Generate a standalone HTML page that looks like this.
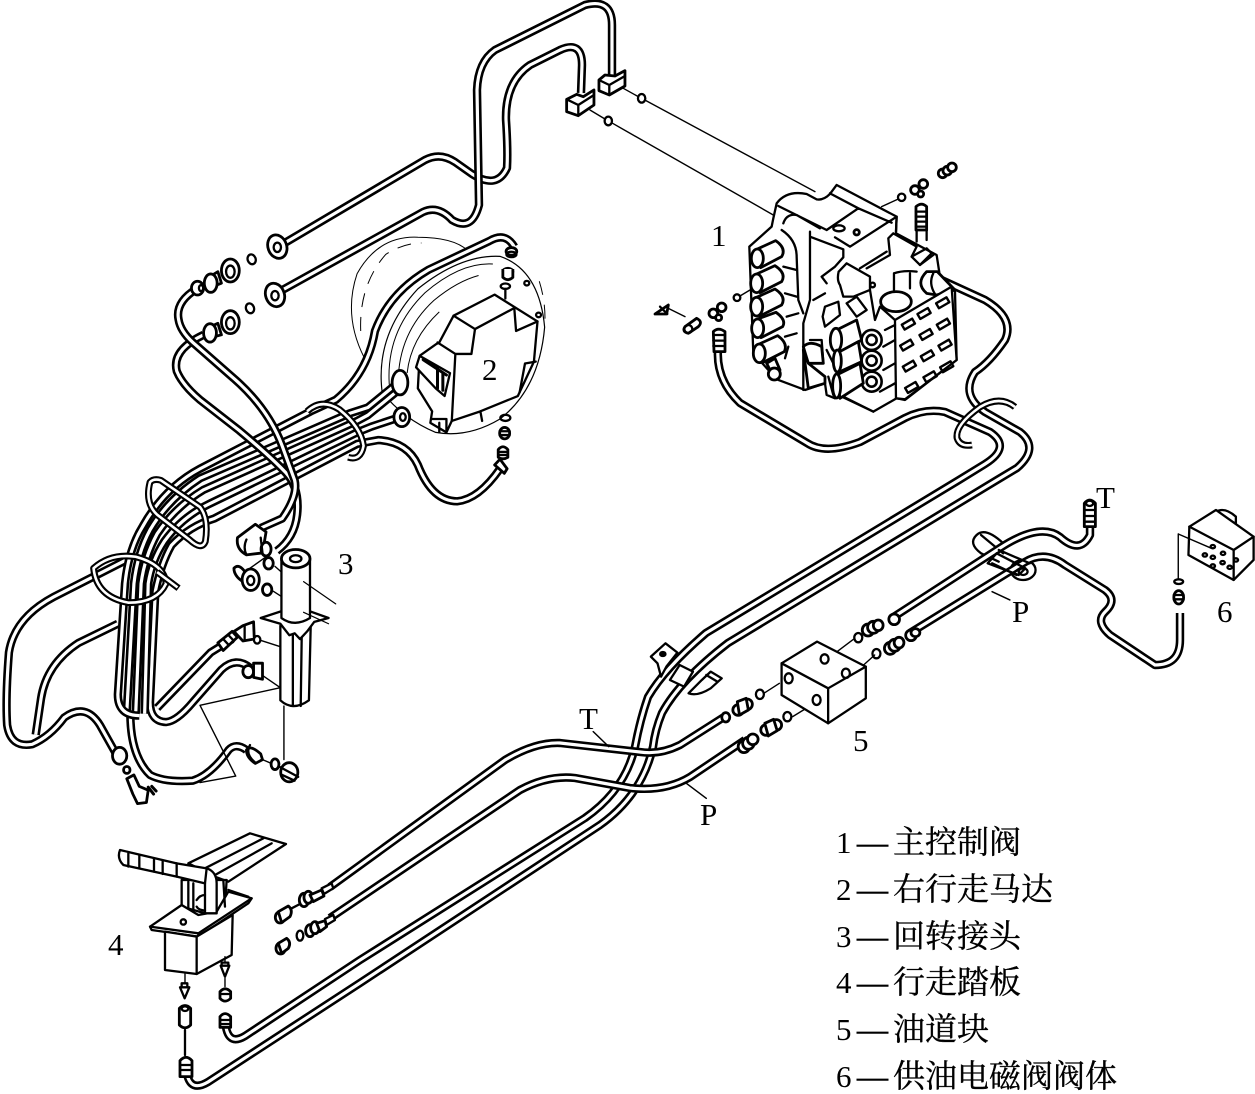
<!DOCTYPE html>
<html><head><meta charset="utf-8"><style>
html,body{margin:0;padding:0;background:#fff}
svg{display:block}
svg *{vector-effect:non-scaling-stroke}
.o{stroke:#000;stroke-width:8.4;fill:none;stroke-linejoin:round}
.i{stroke:#fff;stroke-width:3.2;fill:none;stroke-linejoin:round}
.so{stroke:#000;stroke-width:6.8;fill:none;stroke-linejoin:round}
.si{stroke:#fff;stroke-width:2.6;fill:none;stroke-linejoin:round}
.l{stroke:#000;stroke-width:2.3;fill:none;stroke-linejoin:round;stroke-linecap:round}
.w{stroke:#000;stroke-width:2.3;fill:#fff;stroke-linejoin:round}
.b{stroke:#000;stroke-width:2.8;fill:#fff;stroke-linejoin:round}
.t{stroke:#000;stroke-width:1;fill:none}
.d{stroke:#000;stroke-width:1;fill:none;stroke-dasharray:14 10}
text{font-family:"Liberation Serif","Noto Serif CJK SC",serif;fill:#000}
.n{font-size:31px}
.c{font-size:31px;font-family:"Liberation Serif","Noto Serif CJK SC",serif}
.c tspan.h{font-size:32px;stroke:#000;stroke-width:.35}
.c tspan.m{stroke:#000;stroke-width:.6}
</style></head><body>
<svg width="1255" height="1094" viewBox="0 0 1255 1094" xmlns="http://www.w3.org/2000/svg">
<defs>
<path id="A" d="M283,244 L425,160 Q440,152 455,162 L472,174 Q497,190 507,168 Q508,150 506,120 Q505,82 530,65 L560,50 Q582,40 582,65 L581,93"/>
<path id="B" d="M277,293 L423,212 Q438,205 452,220 Q472,232 479,205 L477,90 Q478,62 495,50 L585,5 Q612,-2 612,25 L612,75"/>
<path id="C" d="M718,350 Q716,380 740,403 L807,443 Q825,455 860,442 L905,418 Q925,408 945,412 L990,432 Q1012,447 985,464 L959,480 L706,633 Q665,668 648,697 Q640,720 635,747 Q625,790 585,818 L360,960 L245,1036 Q225,1048 225,1015"/>
<path id="D" d="M937,278 L985,300 Q1015,318 1005,340 Q990,362 975,372 Q960,395 985,412 L1020,432 Q1040,448 1017,468 L997,480 L728,643 Q680,680 662,713 Q655,730 653,747 Q642,795 600,825 L360,983 L208,1082 Q186,1095 186,1062"/>
<path id="T" d="M724,717 L680,745 Q660,755 640,752 L560,743 Q535,742 505,760 L330,887"/>
<path id="P" d="M745,740 L690,777 Q665,792 630,788 L575,778 Q548,775 520,790 L330,918"/>
<path id="RT" d="M892,618 L1000,548 Q1040,522 1060,537 Q1080,555 1090,535 L1090,503"/>
<path id="RP" d="M910,633 L1025,562 Q1045,550 1065,565 L1105,590 Q1118,600 1105,612 Q1095,622 1110,635 L1155,665 Q1180,665 1180,640 L1180,613"/>
<path id="S0" d="M1015,407 Q1000,395 980,407 Q955,425 957,438 Q960,447 972,445"/>

<path id="b1" d="M1440,70 Q1415,30 1370,55 L1200,130 Q1090,190 1050,290 Q1030,400 940,470 L870,500 L560,650 Q460,700 400,800 Q360,860 350,950 L330,1240 Q330,1295 390,1295"/>
<path id="b2" d="M1115,425 L1030,490 L980,505 L560,675 Q470,730 420,810 Q385,870 375,950 L355,1285"/>
<path id="b3" d="M1115,445 L1030,510 L1000,525 L570,705 Q490,750 440,820 Q405,880 395,950 L380,1290"/>
<path id="b4" d="M1120,515 L1040,540 L1000,555 L590,740 Q510,775 460,840 Q425,890 415,950 L405,1290"/>
<path id="b5" d="M1400,650 Q1340,730 1280,735 Q1210,735 1170,640 Q1140,580 1060,575 L1000,585 L600,780 Q530,800 480,850 Q450,900 435,970 L420,1260 Q420,1310 465,1312 Q495,1310 540,1260 L620,1175 Q660,1140 700,1170"/>
<path id="b6" d="M650,1095 L590,1130 L440,1275"/>
<path id="lo" d="M365,1290 Q365,1400 420,1450 Q460,1470 540,1465 Q590,1450 640,1385 Q660,1365 690,1385"/>
<path id="L1" d="M350,890 L150,985 Q40,1040 25,1130 Q15,1250 20,1320 Q30,1380 90,1370 Q140,1350 180,1300 Q240,1260 280,1320 L325,1395"/>
<path id="L2" d="M330,1055 L220,1105 Q130,1160 115,1250 L100,1345"/>
<path id="u1" d="M550,180 Q490,215 500,260 Q505,290 540,320 L650,410 Q750,490 790,590 L825,680 Q835,720 790,780 L730,805"/>
<path id="u2" d="M570,300 Q480,340 495,395 Q510,430 560,470 L670,550 Q760,620 800,660 Q840,700 832,770 Q825,830 775,865"/>
<path id="s1" d="M860,500 Q900,465 950,495 Q1010,540 1018,590 Q1010,630 975,620"/>
<path id="s2" d="M420,685 Q430,675 450,680 L560,750 Q585,780 575,840 Q565,865 530,835 L440,770 Q405,740 420,685 Z"/>
<path id="s3" d="M262,910 Q310,870 380,880 Q460,900 465,950 Q440,1000 360,1000 Q270,985 262,910 Z"/>
</defs>

<!-- motor (behind pipes) -->
<g transform="translate(0,220) scale(.35714,.3827)">
<path class="t" d="M1020,360 Q960,250 1000,140 M1000,140 Q1060,40 1170,45 Q1270,45 1310,80"/>
<path class="d" d="M1010,290 Q1005,170 1080,90 Q1130,60 1180,60"/>
<path class="w" style="stroke-width:1.2" d="M1070,450 Q1050,300 1170,180 Q1290,90 1400,95 Q1510,130 1525,280 Q1510,440 1400,520 Q1310,570 1220,555 Q1130,520 1070,450 Z"/>
<path class="t" d="M1090,430 Q1080,290 1190,190 Q1290,110 1380,115 M1115,440 Q1110,300 1215,210 Q1280,160 1340,145 M1140,400 Q1150,310 1230,240"/>
<path class="d" d="M1510,160 Q1530,220 1525,280"/>
<path class="w" d="M1175,355 L1220,325 L1230,320 L1270,250 L1385,195 L1505,265 L1495,370 L1450,460 L1345,500 L1265,525 L1250,555 L1205,530 L1210,500 L1170,440 Z"/>
<path class="l" d="M1270,250 L1330,285 L1320,350 L1275,350 L1265,525 M1330,285 L1440,230 L1445,290 L1505,265 M1225,320 L1275,350 M1345,500 L1350,525 M1500,370 L1470,375 L1455,450 M1210,520 L1250,520 L1250,555 M1230,530 L1230,555"/>
<path class="w" d="M1175,355 L1260,400 L1245,460 L1220,440 L1165,385 Z"/>
<path class="l" style="stroke-width:3" d="M1225,385 L1225,440 M1240,400 L1240,445 M1185,365 L1250,405"/>
<ellipse class="w" cx="1475" cy="165" rx="7" ry="6"/><ellipse class="w" cx="1508" cy="248" rx="7" ry="6"/>
<ellipse class="l" cx="1415" cy="173" rx="13" ry="7"/><path class="l" d="M1415,180 L1415,205"/>
<ellipse class="b" cx="1422" cy="135" rx="14" ry="9"/><path class="b" d="M1408,128 L1408,150 Q1422,162 1436,150 L1436,128"/>
</g>

<!-- long pipes -->
<use href="#C" class="o"/><use href="#C" class="i"/>
<use href="#D" class="o"/><use href="#D" class="i"/>
<use href="#T" class="o"/><use href="#T" class="i"/>
<use href="#P" class="o"/><use href="#P" class="i"/>
<use href="#A" class="o"/><use href="#A" class="i"/>
<use href="#B" class="o"/><use href="#B" class="i"/>
<use href="#S0" class="so"/><use href="#S0" class="si"/>

<!-- top blocks & leaders -->
<g transform="translate(220,0) scale(.3333)">
<path class="l" style="stroke-width:1.4" d="M1210,265 L1255,290 M1278,302 L1785,575 M1110,330 L1155,357 M1178,370 L1660,645"/>
<ellipse class="w" cx="1265" cy="295" rx="11" ry="13"/><ellipse class="w" cx="1165" cy="363" rx="11" ry="13"/>
<path class="b" d="M1137,240 L1155,225 L1185,228 L1215,212 L1215,258 L1168,285 L1137,272 Z"/><path class="l" d="M1137,240 L1168,255 L1215,228 M1168,255 L1168,285"/>
<path class="b" d="M1040,298 L1070,283 L1090,290 L1122,270 L1122,315 L1075,347 L1040,335 Z"/><path class="l" d="M1040,298 L1075,315 L1122,285 M1075,315 L1075,347"/>
<ellipse class="b" cx="172" cy="740" rx="28" ry="36" transform="rotate(-20 172 740)"/><ellipse class="l" cx="172" cy="742" rx="11" ry="14"/>
<ellipse class="b" cx="165" cy="885" rx="28" ry="36" transform="rotate(-20 165 885)"/><ellipse class="l" cx="165" cy="887" rx="11" ry="14"/>
<ellipse class="l" cx="95" cy="778" rx="12" ry="15" transform="rotate(-20 95 778)"/>
<ellipse class="l" cx="90" cy="925" rx="12" ry="15" transform="rotate(-20 90 925)"/>
</g>

<!-- bundle & rotary joint group -->
<g transform="translate(0,220) scale(.35714,.3827)">
<use href="#L2" class="o"/><use href="#L2" class="i"/>
<use href="#L1" class="o"/><use href="#L1" class="i"/>
<use href="#lo" class="o"/><use href="#lo" class="i"/>
<use href="#b5" class="o"/><use href="#b5" class="i"/>
<use href="#b6" class="o"/><use href="#b6" class="i"/>
<use href="#b4" class="o"/><use href="#b4" class="i"/>
<use href="#b3" class="o"/><use href="#b3" class="i"/>
<use href="#b2" class="o"/><use href="#b2" class="i"/>
<use href="#b1" class="o"/><use href="#b1" class="i"/>
<use href="#u2" class="o"/><use href="#u2" class="i"/>
<use href="#u1" class="o"/><use href="#u1" class="i"/>
<use href="#s1" class="so"/><use href="#s1" class="si"/>
<use href="#s2" class="so"/><use href="#s2" class="si"/>
<use href="#s3" class="so"/><use href="#s3" class="si"/>
<path class="so" d="M440,920 L500,962"/><path class="si" d="M440,920 L497,960"/>
<ellipse class="b" cx="1432" cy="82" rx="15" ry="10"/><ellipse class="l" cx="1432" cy="90" rx="14" ry="7"/>
<ellipse class="b" cx="1120" cy="425" rx="22" ry="32"/><ellipse class="b" cx="1125" cy="515" rx="22" ry="25"/><ellipse class="l" cx="1128" cy="515" rx="8" ry="10"/>
<!-- flanges -->
<path class="b" d="M610,135 L575,155 L580,180 L620,165 Z"/>
<ellipse class="b" cx="645" cy="132" rx="25" ry="30"/><ellipse class="l" cx="645" cy="135" rx="12" ry="16"/>
<ellipse class="b" cx="590" cy="165" rx="18" ry="24"/><ellipse class="b" cx="553" cy="178" rx="17" ry="18"/><ellipse class="l" cx="563" cy="178" rx="6" ry="8"/>
<path class="b" d="M610,270 L575,285 L580,310 L620,300 Z"/>
<ellipse class="b" cx="645" cy="267" rx="25" ry="30"/><ellipse class="l" cx="645" cy="270" rx="12" ry="16"/>
<ellipse class="b" cx="588" cy="295" rx="18" ry="24"/>
<!-- fittings near bundle -->
<path class="b" d="M665,830 L715,795 L745,815 L735,870 L690,875 Q660,860 665,830 Z"/>
<ellipse class="b" cx="745" cy="860" rx="14" ry="18"/>
<path class="l" d="M690,835 Q680,855 690,875 M730,830 L735,870"/>
<path class="l" style="stroke-width:1.4" d="M745,880 L700,910 M770,905 L800,930 M765,970 L790,985"/>
<ellipse class="b" cx="752" cy="897" rx="13" ry="15"/>
<path class="b" d="M655,910 Q670,895 690,925 L680,945 Q655,930 655,910 Z"/>
<ellipse class="b" cx="702" cy="940" rx="24" ry="28"/><ellipse class="l" cx="702" cy="942" rx="10" ry="12"/>
<ellipse class="b" cx="748" cy="966" rx="13" ry="15"/>
<!-- rotary joint -->
<path class="l" style="stroke-width:1.4" d="M725,1097 L785,1115 M735,1190 L785,1222 M785,1222 L560,1268 L660,1453 L560,1470 M795,1270 L795,1410"/>
<path class="w" d="M785,1060 L785,1255 Q820,1285 865,1255 L870,1060 Z"/>
<path class="l" d="M820,1075 L820,1270 M845,1075 L842,1270"/>
<path class="w" d="M730,1040 L795,1020 L860,1020 L920,1040 L880,1050 L860,1075 L840,1095 L825,1080 L810,1085 L785,1055 Z"/>
<path class="w" d="M788,885 L788,1040 Q825,1065 868,1040 L868,885 Z"/>
<ellipse class="b" cx="828" cy="885" rx="40" ry="24"/><ellipse class="l" cx="828" cy="885" rx="16" ry="9"/>
<path class="l" style="stroke-width:1.2" d="M850,945 L940,1003 M850,1025 L920,1055"/>
<!-- left side fittings -->
<path class="b" d="M610,1105 L650,1075 L665,1090 L625,1125 Z"/><path class="l" d="M625,1095 L640,1110 M640,1085 L655,1100"/>
<path class="b" d="M655,1075 L680,1060 L710,1050 L712,1095 L680,1100 Z"/><path class="l" d="M685,1060 L685,1098"/>
<ellipse class="w" cx="720" cy="1097" rx="9" ry="10"/>
<ellipse class="b" cx="695" cy="1180" rx="15" ry="16"/><path class="b" d="M710,1158 L735,1158 L735,1200 L710,1195 Z"/>
<path class="b" d="M690,1385 Q700,1370 730,1395 L735,1410 L715,1420 Q690,1405 690,1385 Z"/><path class="l" d="M700,1372 Q685,1395 715,1418"/>
<path class="l" style="stroke-width:1.4" d="M735,1410 L760,1420"/>
<ellipse class="b" cx="770" cy="1422" rx="11" ry="14"/>
<ellipse class="b" cx="810" cy="1443" rx="24" ry="25"/><path class="l" d="M785,1430 L835,1455 M790,1450 L825,1465"/>
<ellipse class="b" cx="335" cy="1400" rx="20" ry="22"/>
<ellipse class="b" cx="355" cy="1437" rx="9" ry="9"/>
<path class="b" d="M355,1460 L375,1450 L390,1480 L415,1490 L410,1522 L385,1525 L372,1500 Z"/>
<path class="l" style="stroke-width:3" d="M415,1482 L430,1500 M425,1480 L437,1492"/>
<!-- lower motor fittings -->
<ellipse class="l" cx="1415" cy="517" rx="14" ry="8"/>
<ellipse class="b" cx="1413" cy="557" rx="14" ry="15"/><path class="l" d="M1399,552 L1427,552 M1399,562 L1427,562"/>
<path class="b" d="M1395,600 Q1408,585 1422,600 L1422,620 Q1408,628 1395,620 Z"/><path class="l" d="M1395,606 L1422,606 M1395,614 L1422,614"/>
<path class="b" d="M1385,640 L1400,625 L1420,650 L1412,662 Z"/>
</g>

<!-- control valve -->
<g transform="translate(640,150) scale(.3333)">
<path class="w" d="M400,205 L410,160 Q440,120 500,132 L530,148 Q550,152 570,132 L590,105 L770,200 L768,250 L890,315 L900,380 L945,420 L950,630 L795,750 L770,745 L700,785 L605,740 L585,745 L560,735 L555,700 L495,720 L415,690 L385,660 L340,610 L328,290 L395,230 Z"/>
<path class="l" d="M415,168 L560,240 M570,130 L655,175 L755,218 M655,175 L560,240 M770,200 L630,290 L585,262 M430,220 Q440,190 470,195 L540,235 M510,245 L510,260 L610,298 L610,322 L585,350 L545,380 L560,400 M596,365 L620,340 L690,380 L690,420 L705,510 L720,470 L765,510 M680,355 L750,315 L745,265 L760,250 L830,290 L815,320 L840,345 L880,315 M660,355 L740,305 M770,200 L768,245 M510,250 L510,450 L490,520 L490,720 M425,240 Q470,270 470,320 L475,450 L490,490 M596,365 Q590,390 600,405 L610,440 L640,440 L690,420 M520,450 L555,430 M510,570 L545,570 L550,640 L505,640 L490,600 M505,640 L555,680 L505,715"/>
<path class="l" d="M830,275 L830,190 M860,270 L860,180 M815,320 L860,295 L875,310 L840,345"/>
<path class="b" d="M828,170 Q845,155 860,170 L860,240 L828,240 Z"/><path class="l" d="M828,185 L860,185 M828,200 L860,200 M828,215 L860,215 M828,230 L860,230"/>
<path class="l" d="M762,370 L762,420 M810,370 L810,415 M830,365 Q790,360 762,370"/>
<ellipse class="b" cx="768" cy="455" rx="46" ry="30"/>
<path class="b" d="M860,365 L892,365 L945,420 L890,435 L860,430 Q825,400 860,365 Z"/><path class="l" d="M880,370 Q865,400 885,432"/>
<!-- right face -->
<path class="w" d="M765,510 L935,410 L950,630 L795,748 L768,745 Z"/>
<g class="b" style="fill:none;stroke:#000;stroke-width:2.4">
<rect x="787" y="514" width="36" height="17" transform="rotate(-30 805 522)"/>
<rect x="834" y="482" width="36" height="17" transform="rotate(-30 852 490)"/>
<rect x="890" y="450" width="36" height="17" transform="rotate(-30 908 458)"/>
<rect x="782" y="577" width="36" height="17" transform="rotate(-30 800 585)"/>
<rect x="840" y="545" width="36" height="17" transform="rotate(-30 858 553)"/>
<rect x="892" y="514" width="36" height="17" transform="rotate(-30 910 522)"/>
<rect x="790" y="640" width="36" height="17" transform="rotate(-30 808 648)"/>
<rect x="844" y="609" width="36" height="17" transform="rotate(-30 862 617)"/>
<rect x="897" y="577" width="36" height="17" transform="rotate(-30 915 585)"/>
<rect x="797" y="704" width="36" height="17" transform="rotate(-30 815 712)"/>
<rect x="852" y="672" width="36" height="17" transform="rotate(-30 870 680)"/>
<rect x="902" y="642" width="36" height="17" transform="rotate(-30 920 650)"/>
</g>
<!-- rings -->
<g fill="#fff" stroke="#000" stroke-width="2.6">
<circle cx="695" cy="570" r="30"/><circle cx="695" cy="570" r="15"/>
<circle cx="695" cy="632" r="30"/><circle cx="695" cy="632" r="15"/>
<circle cx="695" cy="695" r="30"/><circle cx="695" cy="695" r="15"/>
</g>
<path class="l" d="M735,540 L765,525 M730,590 L765,570 M730,660 L765,640 M720,725 L765,700 M610,740 L700,785"/>
<!-- front small cylinders -->
<g class="b">
<path class="b" d="M580,545 L650,510 L665,570 L600,605 Z"/><ellipse class="b" cx="588" cy="570" rx="17" ry="35"/>
<path class="b" d="M590,610 L655,575 L665,635 L600,665 Z"/><ellipse class="b" cx="592" cy="633" rx="12" ry="33"/>
<path class="b" d="M590,675 L660,640 L670,700 L600,745 Z"/><ellipse class="b" cx="590" cy="708" rx="12" ry="36"/>
</g>
<path class="l" d="M555,470 L595,455 L600,495 L555,530 L548,500 Z M620,460 L650,440 L680,480 L650,500 Z M560,600 L580,640 M565,680 L580,735"/>
<path class="b" d="M490,590 Q510,570 545,590 L550,640 L505,640 Z"/>
<path class="b" d="M505,640 L555,680 L555,700 L505,715 L490,600 Z"/>
<!-- left cylinders -->
<path class="l" d="M430,350 L470,360 M435,430 L470,440 M440,500 L475,490 M435,560 L470,550 M435,625 L445,590"/>
<path class="b" d="M352,297 L407,272 Q440,295 425,320 L362,353 Z"/><ellipse class="b" cx="352" cy="325" rx="18" ry="28"/>
<path class="b" d="M350,372 L405,347 Q440,370 425,395 L360,428 Z"/><ellipse class="b" cx="350" cy="400" rx="18" ry="28"/>
<path class="b" d="M350,442 L405,417 Q440,440 425,465 L360,498 Z"/><ellipse class="b" cx="350" cy="470" rx="18" ry="28"/>
<path class="b" d="M353,507 L408,487 Q440,510 428,530 L363,563 Z"/><ellipse class="b" cx="353" cy="535" rx="18" ry="28"/>
<path class="b" d="M358,582 L413,557 Q445,580 433,605 L368,638 Z"/><ellipse class="b" cx="358" cy="610" rx="18" ry="28"/>
<path class="b" d="M380,640 L405,625 L420,660 L395,670 Z"/><circle class="b" cx="403" cy="672" r="18"/>
<!-- small parts -->
<circle class="b" cx="650" cy="247" r="8"/><ellipse class="l" cx="597" cy="235" rx="17" ry="9"/>
<circle class="l" cx="698" cy="405" r="7"/>
<path class="l" style="stroke-width:1.4" d="M725,170 L775,147 M330,420 L300,438 M85,475 L135,500"/>
<circle class="w" cx="785" cy="142" r="11"/><circle class="w" cx="291" cy="443" r="10"/>
<g class="b"><circle class="b" cx="825" cy="120" r="13"/><circle class="b" cx="850" cy="102" r="13"/><circle class="b" cx="842" cy="132" r="9"/></g>
<g><circle class="b" cx="908" cy="70" r="13"/><circle class="b" cx="922" cy="62" r="13"/><circle class="b" cx="936" cy="52" r="13"/></g>
<circle class="b" cx="220" cy="490" r="13"/><circle class="b" cx="245" cy="472" r="13"/><circle class="b" cx="236" cy="503" r="9"/>
<path class="b" d="M135,530 L170,505 Q190,515 175,530 L145,550 Q125,545 135,530 Z"/><circle class="l" cx="145" cy="537" r="12"/>
<path class="b" d="M45,492 L85,465 L80,492 Z"/><path class="l" d="M60,470 L82,492"/>
<path class="b" d="M220,545 Q235,530 255,545 L255,605 L222,605 Z"/><path class="l" d="M220,555 L255,555 M220,572 L255,572 M220,588 L255,588"/>
</g>

<!-- right clip & pipes -->
<g transform="translate(560,480) scale(.4432,.3333)">
<path class="l" d="M1000,190 Q960,140 940,165 Q920,190 950,220 L990,245 M1000,220 L950,165 "/>
<ellipse class="w" cx="1045" cy="270" rx="28" ry="30"/>
<circle class="l" cx="1045" cy="275" r="10"/>
</g>
<use href="#RT" class="o"/><use href="#RT" class="i"/>
<use href="#RP" class="o"/><use href="#RP" class="i"/>
<g transform="translate(560,480) scale(.4432,.3333)">
<path class="w" d="M965,250 L985,220 L1050,265 L1035,285 Z" style="fill:none"/>
<path class="l" d="M990,210 L1060,250 M975,250 L1030,285"/>
<!-- T beads -->
<path class="b" d="M1183,70 Q1195,50 1208,70 L1208,140 L1183,140 Z"/>
<path class="l" d="M1183,90 L1208,90 M1183,108 L1208,108 M1183,125 L1208,125"/>
<circle class="l" cx="1195" cy="70" r="8"/>
<!-- bracket -->
<path class="w" d="M205,530 L238,490 L265,518 L240,560 L228,590 L220,550 Z"/><circle class="l" cx="232" cy="522" r="6" style="fill:#000"/>
<path class="w" d="M270,555 L300,575 L280,620 L248,600 Z"/>
<path class="w" d="M340,575 L365,595 L340,625 Q310,650 290,640 L320,600 Z"/>
<path class="l" d="M330,585 L355,605"/>
<path class="l" style="stroke-width:1.5" d="M75,755 L110,800 M285,910 L330,955 M975,335 L1015,360"/>
<!-- block 5 -->
<path class="l" style="stroke-width:1.4" d="M625,515 L665,475 M685,555 L710,525 M495,610 L460,640 M580,665 L525,710"/>
<path class="w" d="M500,550 L580,485 L690,560 L690,655 L605,730 L500,645 Z"/>
<path class="l" d="M500,550 L605,625 L690,560 M605,625 L605,730"/>
<ellipse class="l" cx="597" cy="537" rx="9" ry="14"/><ellipse class="l" cx="645" cy="580" rx="9" ry="14"/>
<ellipse class="l" cx="516" cy="595" rx="9" ry="15"/><ellipse class="l" cx="579" cy="660" rx="9" ry="15"/>
<!-- fittings 5 -->
<ellipse class="l" cx="673" cy="473" rx="9" ry="14"/>
<ellipse class="b" cx="695" cy="450" rx="13" ry="18"/><ellipse class="b" cx="707" cy="442" rx="13" ry="18"/><ellipse class="b" cx="718" cy="436" rx="11" ry="16"/>
<ellipse class="b" cx="754" cy="418" rx="12" ry="16"/>
<ellipse class="l" cx="714" cy="521" rx="9" ry="14"/>
<ellipse class="b" cx="745" cy="505" rx="13" ry="18"/><ellipse class="b" cx="755" cy="496" rx="13" ry="18"/><ellipse class="b" cx="765" cy="488" rx="11" ry="16"/>
<ellipse class="b" cx="792" cy="466" rx="12" ry="16"/><ellipse class="b" cx="802" cy="458" rx="10" ry="12"/>
<ellipse class="l" cx="451" cy="643" rx="9" ry="14"/>
<ellipse class="b" cx="402" cy="690" rx="12" ry="16"/><ellipse class="b" cx="422" cy="673" rx="12" ry="16"/><path class="b" d="M400,665 L420,655 L425,690 L405,705 Z"/>
<ellipse class="b" cx="374" cy="712" rx="9" ry="14"/>
<ellipse class="l" cx="513" cy="710" rx="9" ry="14"/>
<ellipse class="b" cx="465" cy="750" rx="12" ry="16"/><ellipse class="b" cx="488" cy="735" rx="12" ry="16"/><path class="b" d="M462,730 L482,718 L490,752 L470,768 Z"/>
<ellipse class="b" cx="415" cy="800" rx="13" ry="18"/><ellipse class="b" cx="425" cy="790" rx="13" ry="18"/><ellipse class="b" cx="435" cy="778" rx="12" ry="16"/>
<!-- block 6 -->
<path class="w" d="M1480,95 Q1500,80 1525,110 L1525,130 L1480,110 Z"/>
<path class="w" d="M1420,140 L1480,90 L1565,170 L1565,240 L1520,300 L1418,225 Z"/>
<path class="l" d="M1420,140 L1520,210 L1565,170 M1520,210 L1520,300"/>
<path class="l" style="stroke-width:1.4" d="M1395,162 L1395,295 M1395,162 L1470,205"/>
<g class="l" fill="none"><circle class="l" cx="1473" cy="200" r="5"/><circle class="l" cx="1496" cy="220" r="5"/><circle class="l" cx="1473" cy="232" r="5"/><circle class="l" cx="1455" cy="225" r="5"/><circle class="l" cx="1495" cy="248" r="5"/><circle class="l" cx="1473" cy="258" r="5"/><circle class="l" cx="1511" cy="262" r="5"/><circle class="l" cx="1525" cy="240" r="5"/></g>
<ellipse class="l" cx="1396" cy="305" rx="10" ry="7"/>
<ellipse class="b" cx="1396" cy="352" rx="11" ry="20"/><path class="l" d="M1385,345 L1407,345 M1385,358 L1407,358"/>
</g>

<!-- pedal -->
<g transform="translate(100,820) scale(.3333)">
<path class="w" d="M265,130 L450,40 L558,72 L385,185 L345,170 Z"/>
<path class="l" d="M315,145 L490,55 M345,165 L515,70"/>
<path class="w" d="M245,180 L245,260 L350,290 L375,260 L380,180 Z"/>
<path class="l" d="M265,185 L265,265 M280,190 L280,270 M385,210 L445,230"/>
<path class="w" d="M150,320 L245,255 L295,285 L350,275 L385,215 L455,235 L445,250 L295,350 L155,330 Z"/>
<path class="l" d="M150,320 L295,340 L455,235 M295,350 L295,340"/>
<circle class="l" cx="250" cy="306" r="8"/>
<path class="w" d="M195,335 L195,450 L290,462 L395,405 L398,285 L290,350 Z"/>
<path class="l" d="M290,350 L290,462"/>
<path class="w" d="M60,90 L230,130 L320,145 Q350,155 350,190 L350,280 L315,280 L315,190 L230,170 L70,135 Q50,115 60,90 Z"/>
<path class="l" d="M85,100 L85,140 M118,105 L118,145 M162,115 L162,155 M188,122 L188,162 M230,130 L230,170 M320,145 L315,190"/>
<path class="l" d="M290,240 Q300,225 315,225 M290,260 Q295,270 315,272 M370,180 L375,260"/>
<path class="l" style="stroke-width:1.4" d="M255,462 L255,490 M375,410 L375,430 M375,475 L375,500"/>
<path d="M240,502 L268,502 L254,535 Z" class="w"/><path d="M245,490 L262,490 L262,502 L245,502 Z" class="w"/>
<path d="M362,437 L388,437 L375,470 Z" class="w"/><path d="M365,428 L385,428 L385,437 L365,437 Z" class="w"/>
<path class="b" d="M238,565 Q255,548 272,565 L272,615 Q255,632 238,615 Z"/><ellipse class="l" cx="255" cy="566" rx="10" ry="7"/>
<path class="l" d="M255,630 L255,705"/>
<path class="b" d="M360,515 Q375,498 392,515 L392,535 Q375,552 360,535 Z"/><path class="l" d="M360,522 L392,522"/>
<path class="b" d="M360,590 Q375,572 392,590 L392,622 L360,622 Z"/><path class="l" d="M360,600 L392,600 M360,612 L392,612"/>
<path class="b" d="M240,722 Q258,702 276,722 L276,770 L240,770 Z"/><path class="l" d="M240,735 L276,735 M240,750 L276,750"/>
<!-- left fittings -->
<ellipse class="b" cx="540" cy="292" rx="14" ry="17"/><path class="b" d="M535,275 L565,258 Q580,270 570,290 L545,308 Z"/>
<ellipse class="b" cx="612" cy="240" rx="14" ry="20"/><ellipse class="b" cx="625" cy="232" rx="13" ry="18"/>
<path class="l" d="M575,265 L600,252"/>
<path class="b" d="M630,225 L665,210 L672,228 L640,245 Z"/><path class="w" d="M665,205 L695,190 L700,205 L672,222 Z"/>
<ellipse class="b" cx="542" cy="385" rx="14" ry="17"/><path class="b" d="M535,370 L560,355 Q575,367 565,385 L545,400 Z"/>
<ellipse class="l" cx="600" cy="347" rx="10" ry="15"/>
<ellipse class="b" cx="630" cy="332" rx="13" ry="18"/><ellipse class="b" cx="645" cy="323" rx="13" ry="18"/>
<path class="b" d="M650,310 L675,302 L680,320 L660,335 Z"/><path class="w" d="M675,297 L700,285 L705,300 L680,315 Z"/>
</g>

<!-- labels -->
<text class="n" x="711" y="246">1</text>
<text class="n" x="482" y="380">2</text>
<text class="n" x="338" y="574">3</text>
<text class="n" x="108" y="955">4</text>
<text class="n" x="853" y="751">5</text>
<text class="n" x="1217" y="622">6</text>
<text class="n" x="1096" y="508">T</text>
<text class="n" x="1012" y="622">P</text>
<text class="n" x="579" y="729">T</text>
<text class="n" x="700" y="825">P</text>

<text class="c" x="836" y="853">1<tspan class="m" x="857">—</tspan><tspan class="h" x="893">主控制阀</tspan></text>
<text class="c" x="836" y="900">2<tspan class="m" x="857">—</tspan><tspan class="h" x="893">右行走马达</tspan></text>
<text class="c" x="836" y="947">3<tspan class="m" x="857">—</tspan><tspan class="h" x="893">回转接头</tspan></text>
<text class="c" x="836" y="993">4<tspan class="m" x="857">—</tspan><tspan class="h" x="893">行走踏板</tspan></text>
<text class="c" x="836" y="1040">5<tspan class="m" x="857">—</tspan><tspan class="h" x="893">油道块</tspan></text>
<text class="c" x="836" y="1087">6<tspan class="m" x="857">—</tspan><tspan class="h" x="893">供油电磁阀阀体</tspan></text>
</svg>
</body></html>
